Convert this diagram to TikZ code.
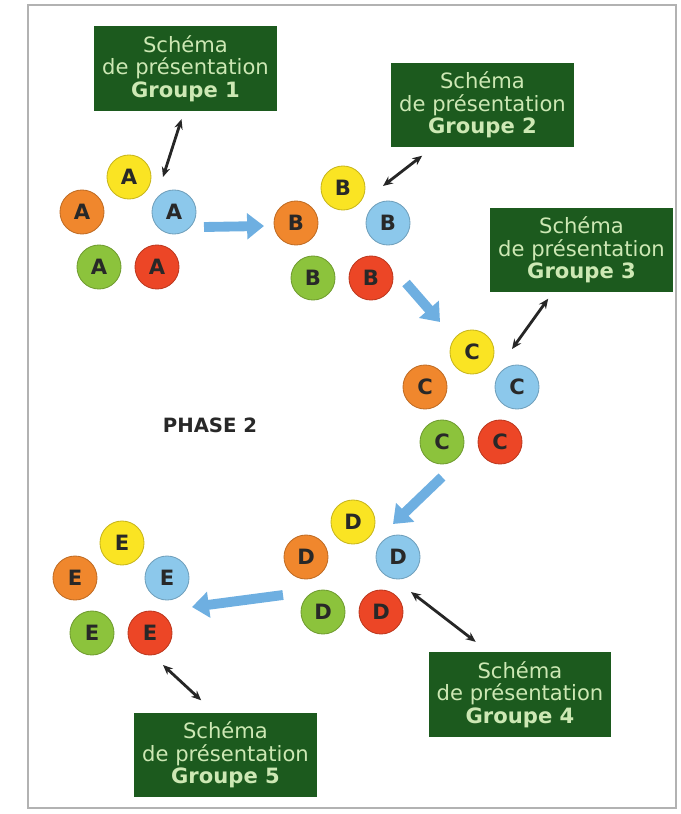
\documentclass[tikz,border=0pt]{standalone}
\usepackage{fontspec}
\setmainfont{DejaVu Sans}
\usepackage{tikz}
\usetikzlibrary{calc, arrows.meta}
\definecolor{pjaune}{RGB}{250, 228, 35}
\definecolor{porange}{RGB}{240, 135, 45}
\definecolor{pbleu}{RGB}{140, 200, 235}
\definecolor{pvert}{RGB}{140, 195, 60}
\definecolor{prouge}{RGB}{236, 70, 38}
\definecolor{lettre}{RGB}{40, 40, 40}
\definecolor{vertfonce}{RGB}{28, 90, 30}
\definecolor{vertclair}{RGB}{205, 232, 180}
\definecolor{bleufleche}{RGB}{110, 175, 225}
\definecolor{gray70}{gray}{0.7}

\begin{document}
\begin{tikzpicture}[x=0.025cm, y=-0.025cm,
  pion/.style={circle, fill=#1, draw=#1!80!black, line width=0.6, minimum size=1.1cm,
    inner sep=0, text=lettre, font=\fontsize{15}{15}\selectfont\bfseries},
  cadre/.style={fill=vertfonce, minimum width=4.55cm, minimum height=2.12cm, inner sep=2,
    align=center, text=vertclair, font=\fontsize{15}{16}\selectfont},
  fleche/.style={-{Triangle[width=18pt, length=12pt]}, line width=7, bleufleche},
  lien/.style={{Stealth[length=7pt, width=6pt]}-{Stealth[length=7pt, width=6pt]}, line width=2, black!85}]

  \useasboundingbox (0, 0) rectangle (680, 814);
  \draw[gray70, line width=0.8] (28, 5) rectangle (676, 808);

  % groupes de pions
  \foreach \g/\x/\y in {A/129/177, B/343/188, C/472/352, D/353/522, E/122/543} {
    \node[pion=pjaune]  (y\g) at (\x, \y) {\g};
    \node[pion=porange] (o\g) at (\x-47, \y+35) {\g};
    \node[pion=pbleu]   (b\g) at (\x+45, \y+35) {\g};
    \node[pion=pvert]   (v\g) at (\x-30, \y+90) {\g};
    \node[pion=prouge]  (r\g) at (\x+28, \y+90) {\g};
  }

  % cadres
  \node[cadre] (cadre1) at (185.5, 68.5) {Schéma\\de présentation\\\textbf{Groupe 1}};
  \node[cadre] (cadre2) at (482.5, 105) {Schéma\\de présentation\\\textbf{Groupe 2}};
  \node[cadre] (cadre3) at (581.5, 250) {Schéma\\de présentation\\\textbf{Groupe 3}};
  \node[cadre] (cadre4) at (520, 694.5) {Schéma\\de présentation\\\textbf{Groupe 4}};
  \node[cadre] (cadre5) at (225.5, 755) {Schéma\\de présentation\\\textbf{Groupe 5}};

  \node[text=lettre, font=\fontsize{14}{14}\selectfont\bfseries] (phase) at (210, 425) {PHASE 2};

  % passages d'un groupe a l'autre
  \draw[fleche] ($(bA)+(30, 15)$) -- ($(oB)+(-32, 3)$);
  \draw[fleche] ($(rB)+(35, 5)$) -- ($(yC)+(-32, -30)$);
  \draw[fleche] ($(vC)+(0, 35)$) -- ($(bD)+(-5, -33)$);
  \draw[fleche] ($(vD)+(-40, -17)$) -- ($(rE)+(42, -26)$);

  % liens vers les cadres
  \draw[lien] ($(bA)+(-11, -35)$) -- ($(cadre1.south)+(-4, 8)$);
  \draw[lien] ($(bB)+(-5, -37)$) -- ($(cadre2.south west)+(31, 8)$);
  \draw[lien] ($(bC)+(-5, -38)$) -- ($(cadre3.south west)+(58, 6)$);
  \draw[lien] ($(rD)+(30, -20)$) -- ($(cadre4.north west)+(47, -10)$);
  \draw[lien] ($(rE)+(13, 32)$) -- ($(cadre5.north west)+(67, -12)$);

\end{tikzpicture}
\end{document}
